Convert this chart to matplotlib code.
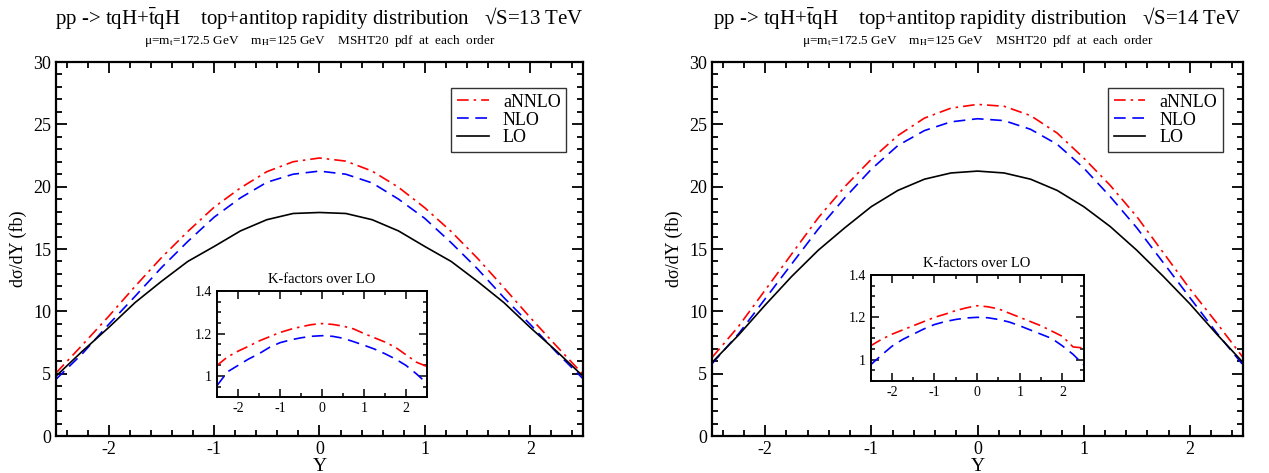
import matplotlib
matplotlib.use("Agg")
import matplotlib.pyplot as plt
from matplotlib.ticker import MultipleLocator, FixedLocator

plt.rcParams['font.family'] = 'serif'
plt.rcParams['font.serif'] = ['Liberation Serif', 'DejaVu Serif']
plt.rcParams['mathtext.fontset'] = 'stix'
plt.rcParams['axes.unicode_minus'] = False

# rapidity grid
Y = [-2.5, -2.25, -2.0, -1.75, -1.5, -1.25, -1.0, -0.75, -0.5, -0.25, 0.0,
     0.25, 0.5, 0.75, 1.0, 1.25, 1.5, 1.75, 2.0, 2.25, 2.5]

# 13 TeV dsigma/dY (fb)
lo_13 = [4.8, 6.8, 8.7, 10.7, 12.4, 14.0, 15.2, 16.45, 17.35, 17.85, 17.93,
         17.85, 17.35, 16.45, 15.2, 14.0, 12.4, 10.7, 8.7, 6.8, 4.8]
nlo_13 = [4.55, 6.6, 8.95, 11.2, 13.5, 15.6, 17.55, 19.1, 20.35, 21.0, 21.25,
          21.0, 20.3, 19.0, 17.45, 15.5, 13.4, 11.1, 8.95, 6.7, 4.6]
annlo_13 = [5.05, 7.3, 9.6, 12.0, 14.3, 16.4, 18.35, 19.9, 21.2, 22.0, 22.3,
            22.05, 21.25, 19.95, 18.3, 16.4, 14.25, 11.9, 9.5, 7.2, 4.95]
k_nlo_13 = [0.955, 1.02, 1.05, 1.08, 1.105, 1.135, 1.157, 1.17, 1.18, 1.187, 1.19,
            1.187, 1.178, 1.162, 1.145, 1.127, 1.105, 1.08, 1.05, 1.01, 0.965]
k_annlo_13 = [1.05, 1.09, 1.117, 1.14, 1.165, 1.185, 1.205, 1.22, 1.232, 1.242, 1.247,
              1.243, 1.235, 1.222, 1.2, 1.18, 1.16, 1.135, 1.1, 1.065, 1.045]

# 14 TeV dsigma/dY (fb)
lo_14 = [5.9, 8.1, 10.5, 12.8, 14.9, 16.7, 18.4, 19.7, 20.6, 21.1, 21.25,
         21.1, 20.6, 19.7, 18.4, 16.8, 14.9, 12.8, 10.6, 8.2, 5.9]
nlo_14 = [5.8, 8.2, 11.0, 13.8, 16.6, 19.1, 21.4, 23.3, 24.5, 25.2, 25.45,
          25.3, 24.6, 23.4, 21.5, 19.2, 16.7, 13.9, 11.1, 8.3, 5.7]
annlo_14 = [6.3, 8.8, 11.7, 14.6, 17.5, 20.0, 22.2, 24.1, 25.5, 26.3, 26.6,
            26.45, 25.7, 24.3, 22.3, 20.1, 17.6, 14.7, 11.8, 9.1, 6.3]
k_nlo_14 = [0.975, 1.02, 1.063, 1.095, 1.12, 1.145, 1.166, 1.18, 1.19, 1.197, 1.2,
            1.198, 1.19, 1.178, 1.16, 1.14, 1.12, 1.1, 1.065, 1.025, 0.975]
k_annlo_14 = [1.065, 1.095, 1.12, 1.14, 1.16, 1.18, 1.2, 1.215, 1.232, 1.245, 1.255,
              1.25, 1.24, 1.22, 1.2, 1.18, 1.16, 1.135, 1.11, 1.06, 1.055]

title_fmt = "pp -> tqH+$\\bar{\\mathrm{t}}$qH    top+antitop rapidity distribution   \u221aS=%s TeV"
subtitle = "\u03bc=m$_\\mathrm{t}$=172.5 GeV    m$_\\mathrm{H}$=125 GeV    MSHT20  pdf  at  each  order"

panels = [
    ("13", lo_13, nlo_13, annlo_13, k_nlo_13, k_annlo_13,
     [0.0441, 0.0782, 0.4153, 0.7907], [0.171, 0.160, 0.1655, 0.2247], (0.968, 0.93)),
    ("14", lo_14, nlo_14, annlo_14, k_nlo_14, k_annlo_14,
     [0.5611, 0.0782, 0.4184, 0.7907], [0.686, 0.195, 0.168, 0.2235], (0.962, 0.93)),
]

red_dd = (0, (7, 3, 1.5, 3))
blue_d = (0, (7, 4))

fig = plt.figure(figsize=(12.69, 4.73), dpi=100)

for energy, lo, nlo, annlo, knlo, kannlo, main_rect, ins_rect, leg_pos in panels:
    ax = fig.add_axes(main_rect)
    ax.plot(Y, annlo, color='red', lw=1.2, linestyle=red_dd, label='aNNLO')
    ax.plot(Y, nlo, color='blue', lw=1.2, linestyle=blue_d, label='NLO')
    ax.plot(Y, lo, color='black', lw=1.2, label='LO')
    ax.set_xlim(-2.5, 2.5)
    ax.set_ylim(0, 30)
    ax.xaxis.set_major_locator(FixedLocator([-2, -1, 0, 1, 2]))
    ax.xaxis.set_minor_locator(MultipleLocator(0.2))
    ax.yaxis.set_major_locator(MultipleLocator(5))
    ax.yaxis.set_minor_locator(MultipleLocator(1))
    ax.tick_params(which='both', direction='in', top=True, right=True, labelsize=13, width=1.3)
    ax.tick_params(which='major', length=8)
    ax.tick_params(which='minor', length=4)
    for s in ax.spines.values():
        s.set_linewidth(1.6)
    ax.set_xlabel("Y", fontsize=14, labelpad=0)
    ax.set_ylabel("d\u03c3/dY (fb)", fontsize=13, labelpad=4)
    leg = ax.legend(loc='upper right', bbox_to_anchor=leg_pos, fontsize=13, frameon=True,
                    fancybox=False, edgecolor='black', handlelength=1.75,
                    borderpad=0.3, labelspacing=0.05, handletextpad=0.8, borderaxespad=0)
    leg.get_frame().set_linewidth(1.0)

    cx = main_rect[0] + main_rect[2] / 2
    fig.text(cx, 0.962, title_fmt % energy, ha='center', va='center', fontsize=15)
    fig.text(cx, 0.913, subtitle, ha='center', va='center', fontsize=9.5)

    ins = fig.add_axes(ins_rect)
    ins.plot(Y, kannlo, color='red', lw=1.2, linestyle=red_dd)
    ins.plot(Y, knlo, color='blue', lw=1.2, linestyle=blue_d)
    ins.set_xlim(-2.5, 2.5)
    ins.set_ylim(0.9, 1.4)
    ins.xaxis.set_major_locator(FixedLocator([-2, -1, 0, 1, 2]))
    ins.xaxis.set_minor_locator(MultipleLocator(0.5))
    ins.yaxis.set_major_locator(FixedLocator([1.0, 1.2, 1.4]))
    ins.yaxis.set_minor_locator(MultipleLocator(0.05))
    ins.set_yticklabels(["1", "1.2", "1.4"])
    ins.tick_params(which='both', direction='in', top=True, right=True, labelsize=10, width=1.1)
    ins.tick_params(which='major', length=6)
    ins.tick_params(which='minor', length=3)
    for s in ins.spines.values():
        s.set_linewidth(1.4)
    ins.set_title("K-factors over LO", fontsize=10.5, pad=6)

fig.savefig("out.png", dpi=100)
